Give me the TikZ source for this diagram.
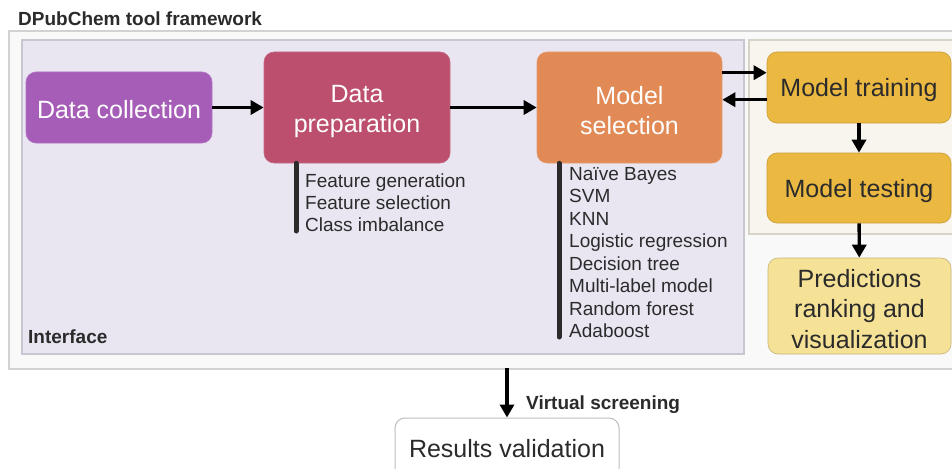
\documentclass[tikz,border=0pt]{standalone}
\usepackage{fontspec}
\setmainfont{Liberation Sans}
\usetikzlibrary{arrows.meta}

\definecolor{txtdark}{HTML}{2B2B2B}
\definecolor{framefill}{HTML}{F9F9F9}
\definecolor{frameline}{HTML}{D2D2D2}
\definecolor{ifacefill}{HTML}{E9E6F2}
\definecolor{ifaceline}{HTML}{C8C6CE}
\definecolor{beigefill}{HTML}{F8F5EE}
\definecolor{beigeline}{HTML}{D8D3C8}
\definecolor{collectc}{HTML}{A55DB7}
\definecolor{prepc}{HTML}{BC4F6E}
\definecolor{selectc}{HTML}{E18A55}
\definecolor{trainc}{HTML}{EBB942}
\definecolor{predc}{HTML}{F6E297}

\tikzset{
  stagebox/.style={rounded corners=10pt, inner sep=0pt, line width=0.6pt},
  stagetext/.style={align=center, inner sep=0pt, yshift=-3pt,
    font=\fontsize{25}{30.5}\selectfont},
  arr/.style={line width=3.4pt, -{Triangle[length=13pt,width=14pt]}},
  bar/.style={line width=5pt, txtdark, line cap=round},
  listtxt/.style={anchor=base west, inner sep=0pt, text=txtdark,
    font=\fontsize{19}{22}\selectfont},
  boldtxt/.style={anchor=base west, inner sep=0pt, text=txtdark,
    font=\fontsize{19}{22}\selectfont\bfseries},
}

\begin{document}
\begin{tikzpicture}[x=1pt, y=-1pt]
  \clip (0,0) rectangle (952,468);
  \fill[white] (0,0) rectangle (952,468);

  % title
  \node[boldtxt] (title) at (18,25.5) {DPubChem tool framework};

  % outer framework panel and its two inner panels
  \draw[fill=framefill, draw=frameline, line width=1.2pt] (9,31) rectangle (970,369);
  \draw[fill=ifacefill, draw=ifaceline, line width=1.2pt] (22,40) rectangle (744,354);
  \draw[fill=beigefill, draw=beigeline, line width=1.2pt] (749,40) rectangle (970,234);
  \node[boldtxt] (iface) at (28,343) {Interface};

  % pipeline stages (box, then its caption)
  \node[stagebox, fill=collectc, draw=collectc!85!white,
        minimum width=186pt, minimum height=71pt] (dc) at (119,107.5) {};
  \node[stagetext, text=white, yshift=1pt] (dct) at (dc.center) {Data collection};

  \node[stagebox, fill=prepc, draw=prepc!85!white,
        minimum width=186pt, minimum height=111pt] (dp) at (357,107.5) {};
  \node[stagetext, text=white, yshift=-1pt] (dpt) at (dp.center) {Data\\preparation};

  \node[stagebox, fill=selectc, draw=selectc!85!white,
        minimum width=185pt, minimum height=111pt] (ms) at (629.5,107.5) {};
  \node[stagetext, text=white] (mst) at (ms.center) {Model\\selection};

  \node[stagebox, fill=trainc, draw=trainc!85!black,
        minimum width=184pt, minimum height=71pt] (mt) at (859,87.5) {};
  \node[stagetext, text=txtdark] (mtt) at (mt.center) {Model training};

  \node[stagebox, fill=trainc, draw=trainc!85!black,
        minimum width=184pt, minimum height=70pt] (mv) at (859,188) {};
  \node[stagetext, text=txtdark] (mvt) at (mv.center) {Model testing};

  \node[stagebox, fill=predc, draw=predc!80!black,
        minimum width=183pt, minimum height=96pt] (pr) at (859.5,306) {};
  \node[stagetext, text=txtdark] (prt) at (pr.center) {Predictions\\ranking and\\visualization};

  \node[stagebox, fill=white, draw=frameline!90!black, line width=1pt,
        minimum width=224pt, minimum height=60pt] (rv) at (507,448) {};
  \node[stagetext, text=txtdark, yshift=2pt] (rvt) at (rv.center) {Results validation};

  % connectors
  \draw[arr] (dc) -- (dp);
  \draw[arr] (dp) -- (ms);
  \draw[arr] ([yshift=-21pt]ms.north east) -- ([yshift=-21pt]mt.north west);
  \draw[arr] ([yshift=-48pt]mt.north west) -- ([yshift=-48pt]ms.north east);
  \draw[arr] (mt) -- (mv);
  \draw[arr] (mv) -- (pr);
  \coordinate (vs) at (507,368);
  \draw[arr] (vs) -- (rv);
  \node[boldtxt] (vslabel) at (526,409) {Virtual screening};

  % option lists hanging under the stages
  \coordinate (dpbar) at (296,231);
  \draw[bar] (dpbar |- dp.south) -- (dpbar);
  \foreach \t [count=\i] in {Feature generation, Feature selection, Class imbalance}
    \node[listtxt] (dpl\i) at (305,187+22*\i-22) {\t};

  \coordinate (msbar) at (559,337);
  \draw[bar] (msbar |- ms.south) -- (msbar);
  \foreach \t [count=\i] in {Naïve Bayes, SVM, KNN, Logistic regression, Decision tree,
                              Multi-label model, Random forest, Adaboost}
    \node[listtxt] (msl\i) at (569,180+22.57*\i-22.57) {\t};
\end{tikzpicture}
\end{document}
